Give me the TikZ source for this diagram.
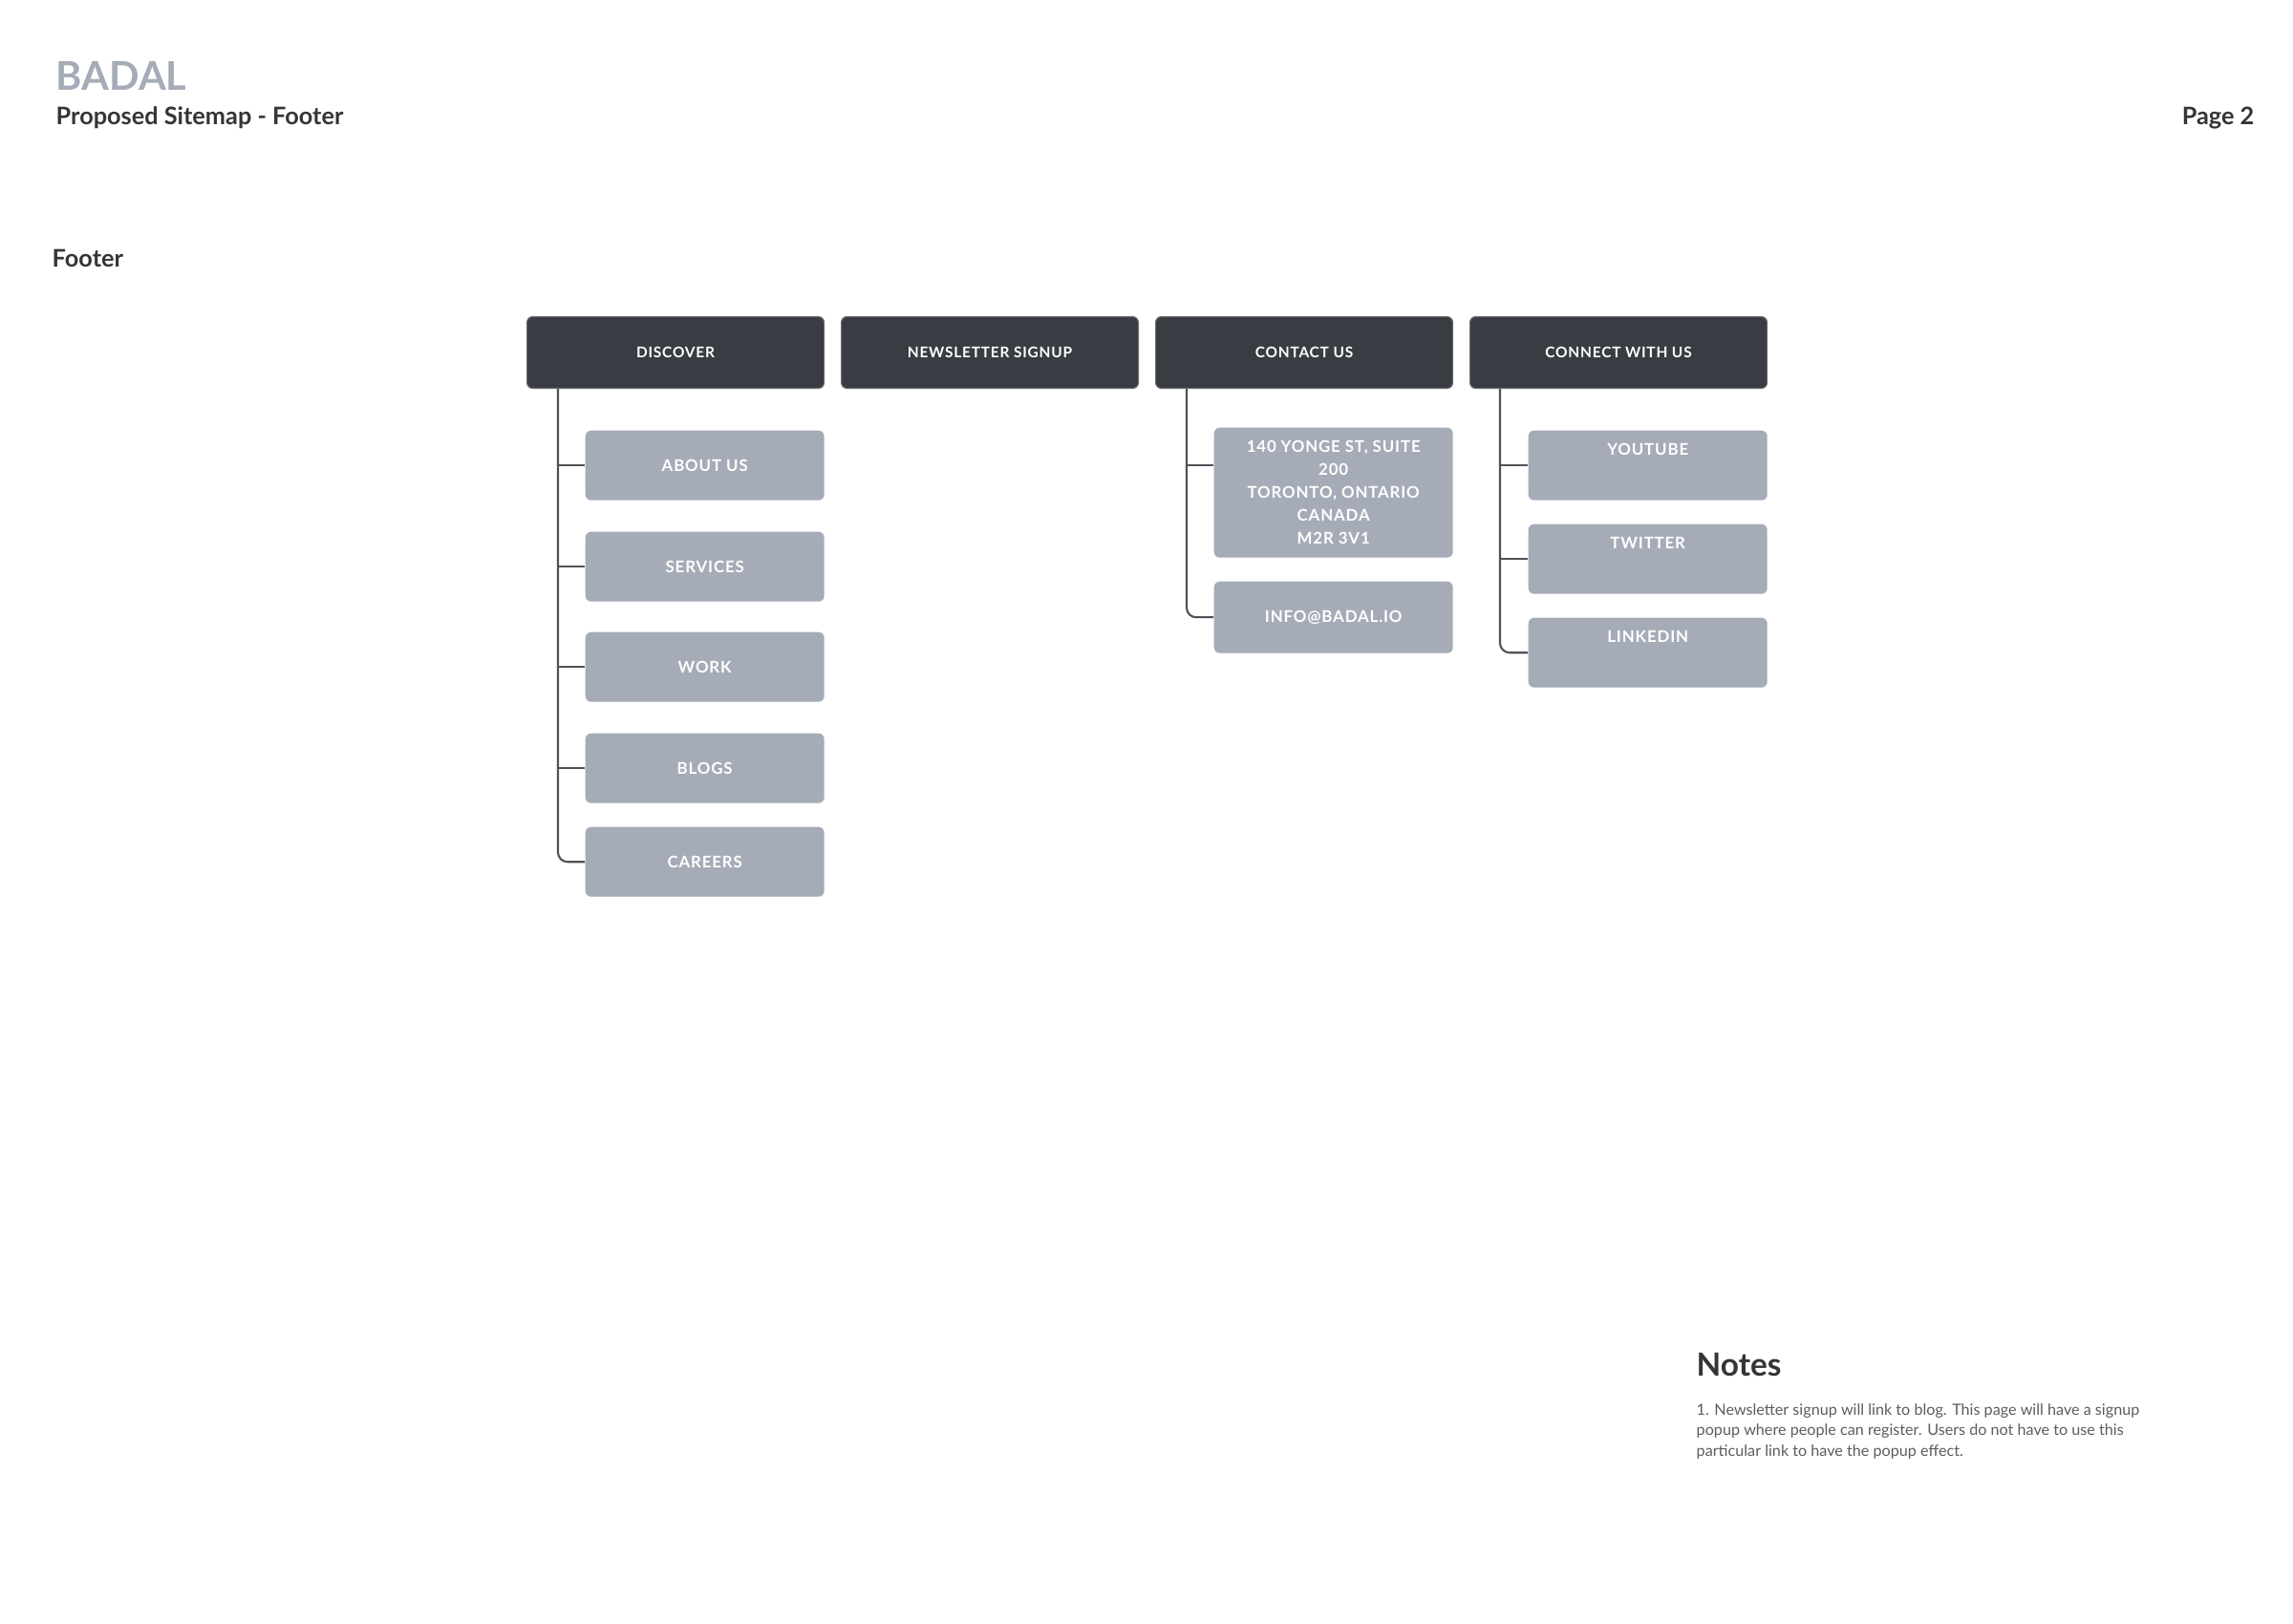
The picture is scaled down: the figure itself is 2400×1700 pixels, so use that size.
\documentclass[tikz,border=0pt]{standalone}
\usepackage{fontspec}
\setmainfont{Lato}
\usepackage{xcolor}

\definecolor{headdark}{HTML}{393C42}
\definecolor{childgray}{HTML}{A5ABB7}
\definecolor{linegray}{HTML}{505257}
\definecolor{textdark}{HTML}{333538}
\definecolor{notegray}{HTML}{5A5C60}

\newcommand{\boxfont}{\fontsize{4.4}{6.7}\selectfont\bfseries\addfontfeature{LetterSpace=5}}
\newcommand{\childfont}{\fontsize{4.8}{6.8}\selectfont\bfseries\addfontfeature{LetterSpace=5}}

\tikzset{
    headbox/.style={fill=headdark, draw=headdark!75!white, line width=0.3pt, rounded corners=0.6mm,
        minimum width=31.1mm, minimum height=7.5mm, inner sep=0pt, text=white,
        font=\boxfont, anchor=north west},
    childbox/.style={fill=childgray, rounded corners=0.6mm, minimum width=25mm, minimum height=7.3mm,
        inner sep=0pt, text=white, align=center, font=\childfont, anchor=north west},
    topbox/.style={childbox, text height=2.6mm, text depth=4.7mm},
    link/.style={draw=linegray, line width=0.6pt},
}

\begin{document}
\begin{tikzpicture}[x=0.1mm, y=-0.1mm]
        \useasboundingbox (0,0) rectangle (2400,1700);

        % titles
        \node[anchor=base west, inner sep=0pt, text=childgray, font=\fontsize{11.8}{13}\selectfont\bfseries] (brand) at (58,95) {BADAL};
        \node[anchor=base west, inner sep=0pt, text=textdark, font=\fontsize{7.2}{8.5}\selectfont\bfseries] (title) at (58,131) {Proposed Sitemap - Footer};
        \node[anchor=base east, inner sep=0pt, text=textdark, font=\fontsize{7.2}{8.5}\selectfont\bfseries] (page) at (2360,131) {Page 2};
        \node[anchor=base west, inner sep=0pt, text=textdark, font=\fontsize{7.2}{8.5}\selectfont\bfseries] (section) at (54,280) {Footer};

        % top row
        \node[headbox] (discover) at (551,331) {DISCOVER};
        \node[headbox] (newsletter) at (880,331) {NEWSLETTER SIGNUP};
        \node[headbox] (contact) at (1209,331) {CONTACT US};
        \node[headbox] (connect) at (1538,331) {CONNECT WITH US};

        % discover
        \node[childbox] (about) at (612,450) {ABOUT US};
        \node[childbox] (services) at (612,556) {SERVICES};
        \node[childbox] (work) at (612,661) {WORK};
        \node[childbox] (blogs) at (612,767) {BLOGS};
        \node[childbox] (careers) at (612,865) {CAREERS};

        % contact us
        \node[childbox, minimum height=13.6mm] (address) at (1270,447) {140 YONGE ST, SUITE\\200\\TORONTO, ONTARIO\\CANADA\\M2R 3V1};
        \node[childbox, minimum height=7.5mm] (email) at (1270,608) {INFO@BADAL.IO};

        % connect with us
        \node[topbox] (youtube) at (1599,450) {YOUTUBE};
        \node[topbox] (twitter) at (1599,548) {TWITTER};
        \node[topbox] (linkedin) at (1599,646) {LINKEDIN};

        \draw[link] ([xshift=3.3mm]discover.south west) |- (about.west);
        \draw[link] ([xshift=3.3mm]discover.south west) |- (services.west);
        \draw[link] ([xshift=3.3mm]discover.south west) |- (work.west);
        \draw[link] ([xshift=3.3mm]discover.south west) |- (blogs.west);
        \draw[link, rounded corners=1mm] ([xshift=3.3mm]discover.south west) |- (careers.west);

        \draw[link] ([xshift=3.3mm]contact.south west) |- ([yshift=-4mm]address.north west);
        \draw[link, rounded corners=1mm] ([xshift=3.3mm]contact.south west) |- (email.west);

        \draw[link] ([xshift=3.2mm]connect.south west) |- (youtube.west);
        \draw[link] ([xshift=3.2mm]connect.south west) |- (twitter.west);
        \draw[link, rounded corners=1mm] ([xshift=3.2mm]connect.south west) |- (linkedin.west);

        % notes
        \node[anchor=base west, inner sep=0pt, text=textdark, font=\fontsize{9.5}{11}\selectfont\bfseries] (notes) at (1775,1440) {Notes};
        \node[anchor=north west, inner sep=0pt, text=notegray, align=left, font=\fontsize{4.6}{6.07}\selectfont] (note1) at (1775,1469)
            {1. Newsletter signup will link to blog. This page will have a signup\\
             popup where people can register. Users do not have to use this\\
             particular link to have the popup effect.};
\end{tikzpicture}
\end{document}
